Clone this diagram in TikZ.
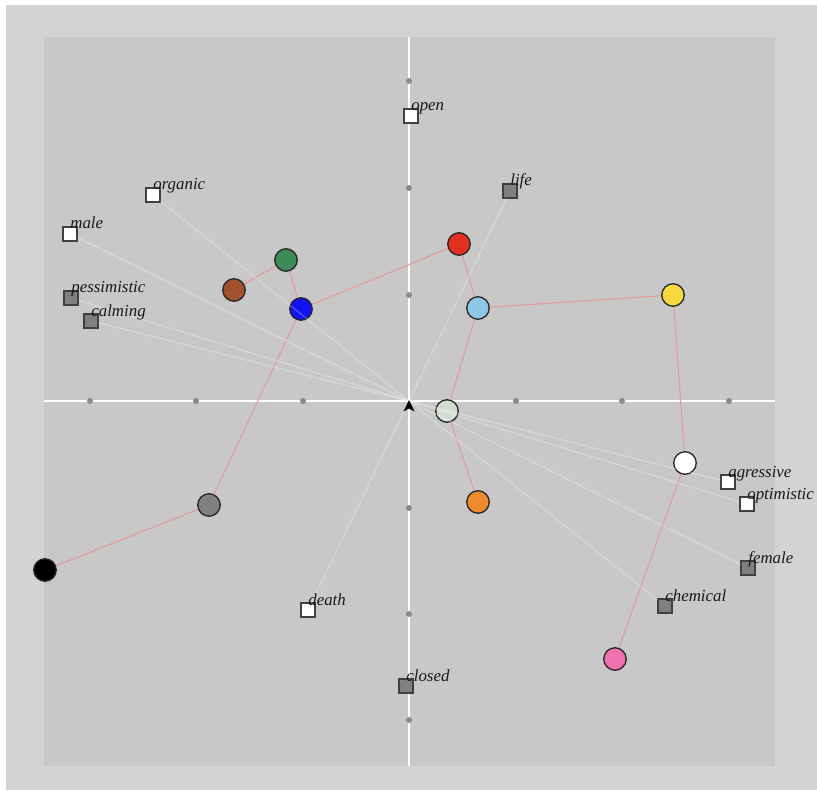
\documentclass[tikz,border=0pt]{standalone}
\usepackage{fontspec}
\setmainfont{Liberation Serif}
\usepackage{tikz}
\usetikzlibrary{positioning, calc}

\definecolor{outerbg}{HTML}{D3D3D3}
\definecolor{plotbg}{HTML}{C8C8C8}
\definecolor{tickgray}{HTML}{8A8A8A}
\definecolor{sqgray}{HTML}{808080}
\definecolor{linkred}{HTML}{E89A9A}
\definecolor{cgreen}{HTML}{3E8B57}
\definecolor{cbrown}{HTML}{A0522D}
\definecolor{cblue}{HTML}{1212F0}
\definecolor{cred}{HTML}{E03020}
\definecolor{clblue}{HTML}{8EC8E8}
\definecolor{cyellow}{HTML}{F8D840}
\definecolor{cpale}{HTML}{D0DDD0}
\definecolor{corange}{HTML}{F08A30}
\definecolor{cgray}{HTML}{808080}
\definecolor{cpink}{HTML}{F070B0}

\begin{document}
\begin{tikzpicture}[x=0.02cm, y=-0.02cm,
  ball/.style={circle, draw=black!85, line width=0.75pt, minimum size=0.45cm,
               inner sep=0pt},
  sq/.style={rectangle, draw=black!75, line width=0.6pt, minimum size=0.28cm,
             inner sep=0pt},
  wsq/.style={sq, fill=white},
  gsq/.style={sq, fill=sqgray},
  lbl/.style={font=\fontsize{9.6}{11}\selectfont\itshape, anchor=base west,
              inner sep=0pt, text=black!90},
  link/.style={draw=linkred, line width=0.6pt},
  ray/.style={draw=white, opacity=0.28, line width=0.7pt},
  tickdot/.style={fill=tickgray},
]

% --- Canvas ---
\useasboundingbox (0,0) rectangle (817,790);
\fill[white] (0,0) rectangle (817,790);
\fill[outerbg] (6,5) rectangle (817,790);
\fill[plotbg] (44,37) rectangle (775,766);

% --- Axes ---
\draw[white, line width=0.9pt] (409,37) -- (409,766);
\draw[white, line width=0.9pt] (44,401) -- (775,401);
\foreach \t in {90,196,303,516,622,729}
  \fill[tickdot] (\t,401) circle (0.06cm);
\foreach \t in {81,188,295,508,614,720}
  \fill[tickdot] (409,\t) circle (0.06cm);
\coordinate (origin) at (409,401);

% --- Circles ---
\node[ball, fill=cgreen]  (green)  at (286,260) {};
\node[ball, fill=cbrown]  (brown)  at (234,290) {};
\node[ball, fill=cblue]   (blue)   at (301,309) {};
\node[ball, fill=cred]    (red)    at (459,244) {};
\node[ball, fill=clblue]  (lblue)  at (478,308) {};
\node[ball, fill=cyellow] (yellow) at (673,295) {};
\node[ball, fill=cpale]   (pale)   at (447,411) {};
\node[ball, fill=white]   (white)  at (685,463) {};
\node[ball, fill=corange] (orange) at (478,502) {};
\node[ball, fill=cgray]   (gray)   at (209,505) {};
\node[ball, fill=black]   (black)  at (45,570)  {};
\node[ball, fill=cpink]   (pink)   at (615,659) {};

% --- Links ---
\draw[link] (black) -- (gray);
\draw[link] (gray) -- (blue);
\draw[link] (blue) -- (green);
\draw[link] (green) -- (brown);
\draw[link] (blue) -- (red);
\draw[link] (red) -- (lblue);
\draw[link] (lblue) -- (yellow);
\draw[link] (yellow) -- (white);
\draw[link] (white) -- (pink);
\draw[link] (lblue) -- (pale);
\draw[link] (pale) -- (orange);

% --- Word squares ---
\node[wsq] (open)        at (411,116) {};
\node[gsq] (life)        at (510,191) {};
\node[wsq] (organic)     at (153,195) {};
\node[wsq] (male)        at (70,234)  {};
\node[gsq] (pessimistic) at (71,298)  {};
\node[gsq] (calming)     at (91,321)  {};
\node[wsq] (agressive)   at (728,482) {};
\node[wsq] (optimistic)  at (747,504) {};
\node[gsq] (female)      at (748,568) {};
\node[gsq] (chemical)    at (665,606) {};
\node[wsq] (death)       at (308,610) {};
\node[gsq] (closed)      at (406,686) {};

% --- Rays ---
\draw[ray] (origin) -- (organic);
\draw[ray] (origin) -- (male);
\draw[ray] (origin) -- (pessimistic);
\draw[ray] (origin) -- (calming);
\draw[ray] (origin) -- (life);
\draw[ray] (origin) -- (death);
\draw[ray] (origin) -- (agressive);
\draw[ray] (origin) -- (optimistic);
\draw[ray] (origin) -- (female);
\draw[ray] (origin) -- (chemical);

% --- Labels ---
\node[lbl] (open-t)        at ([shift={(0,-5)}]open.center)        {open};
\node[lbl] (life-t)        at ([shift={(0,-5)}]life.center)        {life};
\node[lbl] (organic-t)     at ([shift={(0,-5)}]organic.center)     {organic};
\node[lbl] (male-t)        at ([shift={(0,-5)}]male.center)        {male};
\node[lbl] (pessimistic-t) at ([shift={(0,-5)}]pessimistic.center) {pessimistic};
\node[lbl] (calming-t)     at ([shift={(0,-5)}]calming.center)     {calming};
\node[lbl] (agressive-t)   at ([shift={(0,-5)}]agressive.center)   {agressive};
\node[lbl] (optimistic-t)  at ([shift={(0,-5)}]optimistic.center)  {optimistic};
\node[lbl] (female-t)      at ([shift={(0,-5)}]female.center)      {female};
\node[lbl] (chemical-t)    at ([shift={(0,-5)}]chemical.center)    {chemical};
\node[lbl] (death-t)       at ([shift={(0,-5)}]death.center)       {death};
\node[lbl] (closed-t)      at ([shift={(0,-5)}]closed.center)      {closed};

% --- Origin marker ---
\fill[black] (409,400) -- (403.5,411.5) -- (409,408.5) -- (414.5,411.5) -- cycle;

\end{tikzpicture}
\end{document}
